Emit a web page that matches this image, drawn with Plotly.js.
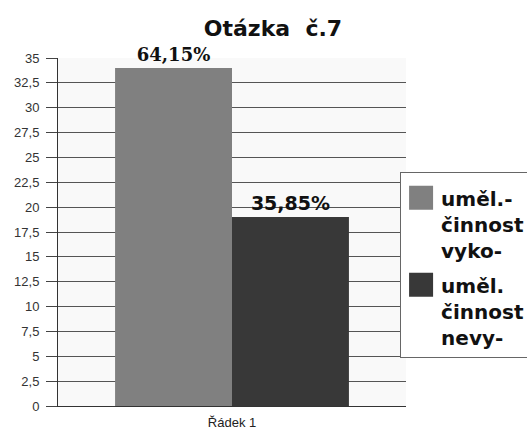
<!DOCTYPE html>
<html>
<head>
<meta charset="utf-8">
<script src="https://cdn.plot.ly/plotly-3.0.1.min.js"></script>
<style>
  html, body { margin: 0; padding: 0; background: #fff; }
  #chart { width: 527px; height: 436px; }
</style>
</head>
<body>
<div id="chart"></div>
<script>
// Otázka č.7 – počet odpovědí v jediné řadě
const categories = ["Řádek 1"];
const seriesNames = ["uměl.-<br>činnost<br>vyko-", "uměl.<br>činnost<br>nevy-"];
const seriesValues = [34, 19];
const seriesColors = ["#808080", "#383838"];
const yTicks = [0, 2.5, 5, 7.5, 10, 12.5, 15, 17.5, 20, 22.5, 25, 27.5, 30, 32.5, 35];

const total = seriesValues.reduce((a, b) => a + b, 0);
const pct = v => (v / total * 100).toFixed(2).replace(".", ",") + "%";

const labelFonts = [
  { family: "DejaVu Serif", size: 18, color: "#111", weight: "bold" },
  { family: "DejaVu Sans", size: 19, color: "#111", weight: "bold" }
];

const traces = seriesValues.map((v, i) => ({
  type: "bar",
  name: seriesNames[i],
  legendgroup: "g" + i,
  x: categories,
  y: [v],
  text: [pct(v)],
  textposition: "outside",
  textfont: labelFonts[i],
  constraintext: "none",
  cliponaxis: false,
  marker: { color: seriesColors[i], line: { width: 0 } },
  hoverinfo: "skip"
}));

const layout = {
  width: 527,
  height: 436,
  margin: { l: 58, r: 121, t: 58, b: 30, autoexpand: false },
  paper_bgcolor: "#ffffff",
  plot_bgcolor: "#f9f9f9",
  separators: ", ",
  barmode: "group",
  bargap: 0.328,
  bargroupgap: 0,
  title: {
    text: "Otázka\u00a0 č.7",
    font: { family: "DejaVu Sans", size: 22, color: "#111", weight: "bold" },
    x: 0.518, xanchor: "center",
    y: 0.934, yanchor: "middle"
  },
  xaxis: {
    type: "category",
    range: [-0.5, 0.5],
    showline: true, linecolor: "#333", linewidth: 1,
    ticks: "",
    ticklabelstandoff: 4,
    showgrid: false,
    tickfont: { family: "Liberation Sans", size: 13, color: "#222" },
    fixedrange: true
  },
  yaxis: {
    range: [0, 35],
    tickmode: "array",
    tickvals: yTicks,
    ticktext: yTicks.map(t => String(t).replace(".", ",")),
    ticks: "outside", ticklen: 11, tickcolor: "#444", tickwidth: 1,
    ticklabelstandoff: 4,
    showline: true, linecolor: "#333", linewidth: 1,
    showgrid: true, gridcolor: "#555", gridwidth: 1,
    zeroline: false,
    tickfont: { family: "Liberation Sans", size: 13, color: "#333" },
    fixedrange: true
  },
  showlegend: true,
  legend: {
    x: 0.983, xanchor: "left",
    y: 0.672, yanchor: "top",
    bgcolor: "#ffffff",
    bordercolor: "#666", borderwidth: 1,
    valign: "top",
    traceorder: "grouped",
    tracegroupgap: 6,
    title: { text: " ", font: { size: 4 } },
    font: { family: "DejaVu Sans", size: 20, color: "#111", weight: "bold" }
  }
};

Plotly.newPlot("chart", traces, layout, { staticPlot: true, displayModeBar: false }).then(gd => {
  // larger legend swatches
  gd.querySelectorAll(".legend .legendpoints path").forEach(p => {
    p.setAttribute("d", "M12,12H-12V-12H12Z");
  });
});
</script>
</body>
</html>
